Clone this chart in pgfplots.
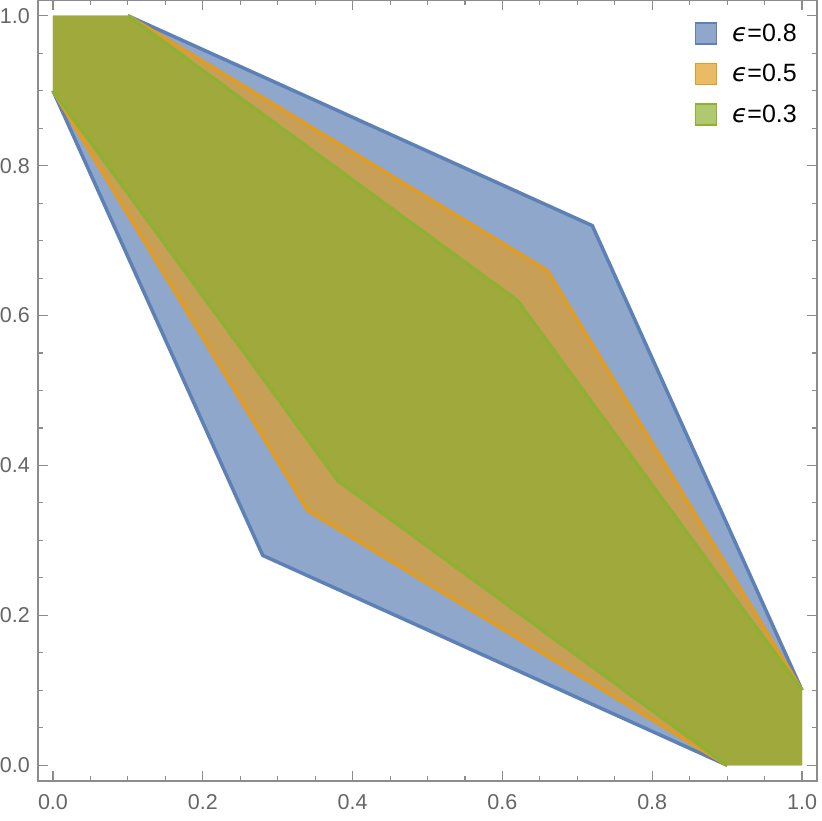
\documentclass[border=0pt]{standalone}
\usepackage{fontspec}
\setmainfont{Liberation Sans}
\newfontfamily\dejavu{DejaVu Sans}
\newcommand{\eps}{{\dejavu\itshape ϵ}}
\usepackage{pgfplots}
\pgfplotsset{compat=1.18}
\definecolor{mblue}{rgb}{0.368417,0.506779,0.709798}
\definecolor{morange}{rgb}{0.880722,0.611041,0.142051}
\definecolor{mgreen}{rgb}{0.560181,0.691569,0.194885}
\definecolor{framegray}{gray}{0.55}
\definecolor{labelgray}{gray}{0.40}
\begin{document}
\begin{tikzpicture}
\useasboundingbox (-38pt,-39pt) rectangle (784pt,781pt);
\begin{axis}[
  scale only axis, width=779pt, height=781pt,
  at={(0,0)}, anchor=south west,
  xmin=-0.02, xmax=1.02, ymin=-0.021, ymax=1.021,
  xtick={0,0.2,0.4,0.6,0.8,1.0}, ytick={0,0.2,0.4,0.6,0.8,1.0},
  minor tick num=3,
  tick align=inside,
  major tick length=10pt, minor tick length=5pt,
  axis line style={framegray, line width=1.1pt},
  every tick/.style={framegray, line width=1.1pt},
  /pgf/number format/.cd, fixed, fixed zerofill, precision=1, assume math mode=true,
  /pgfplots/.cd,
  xticklabel style={inner sep=0pt, yshift=-13pt, text=labelgray, font=\fontsize{21.5}{24}\selectfont},
  yticklabel style={inner sep=0pt, xshift=-8pt, text=labelgray, font=\fontsize{21.5}{24}\selectfont},
  legend style={at={(1,1)}, anchor=north east, xshift=-20pt, yshift=-22pt, draw=none, fill=none,
    font=\fontsize{25}{30}\selectfont, row sep=18pt, column sep=15pt, inner sep=0pt,
    nodes={inner sep=0pt, anchor=west}},
  legend cell align=left,
  legend image code/.code={\draw[#1] (0pt,-10.5pt) rectangle (21pt,10.5pt);},
]
% epsilon = 0.8
\addplot[fill=mblue, fill opacity=0.7, draw=none, forget plot] coordinates {
 (0,0.9) (0,1) (0.1,1) (0.72,0.72) (1,0.1) (1,0) (0.9,0) (0.28,0.28) (0,0.9)};
\addplot[mblue, line width=3.5pt, line join=round, forget plot] coordinates {(0,0.9) (0.28,0.28) (0.9,0)};
\addplot[mblue, line width=3.5pt, line join=round, forget plot] coordinates {(0.1,1) (0.72,0.72) (1,0.1)};
% epsilon = 0.5
\addplot[fill=morange, fill opacity=0.7, draw=none, forget plot] coordinates {
 (0,0.9) (0,1) (0.1,1) (0.66,0.66) (1,0.1) (1,0) (0.9,0) (0.34,0.34) (0,0.9)};
\addplot[morange, line width=3.5pt, line join=round, forget plot] coordinates {(0,0.9) (0.34,0.34) (0.9,0)};
\addplot[morange, line width=3.5pt, line join=round, forget plot] coordinates {(0.1,1) (0.66,0.66) (1,0.1)};
% epsilon = 0.3
\addplot[fill=mgreen, fill opacity=0.7, draw=none, forget plot] coordinates {
 (0,0.9) (0,1) (0.1,1) (0.62,0.62) (1,0.1) (1,0) (0.9,0) (0.38,0.38) (0,0.9)};
\addplot[mgreen, line width=3.5pt, line join=round, forget plot] coordinates {(0,0.9) (0.38,0.38) (0.9,0)};
\addplot[mgreen, line width=3.5pt, line join=round, forget plot] coordinates {(0.1,1) (0.62,0.62) (1,0.1)};
\addlegendimage{fill=mblue, fill opacity=0.7, draw=mblue, draw opacity=1, line width=1.5pt}
\addlegendentry{\eps=0.8}
\addlegendimage{fill=morange, fill opacity=0.7, draw=morange, draw opacity=1, line width=1.5pt}
\addlegendentry{\eps=0.5}
\addlegendimage{fill=mgreen, fill opacity=0.7, draw=mgreen, draw opacity=1, line width=1.5pt}
\addlegendentry{\eps=0.3}
\end{axis}
\end{tikzpicture}
\end{document}
